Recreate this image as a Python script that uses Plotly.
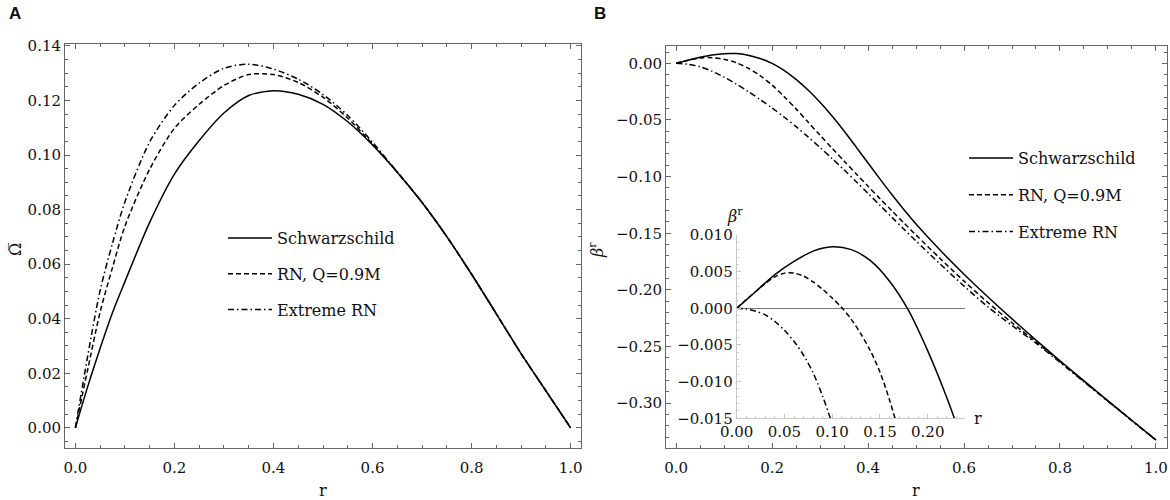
import plotly.graph_objects as go

# (A) Omega-bar vs r
r_left = [0, 0.025, 0.05, 0.075, 0.1, 0.15, 0.2, 0.25, 0.3, 0.35, 0.4, 0.45,
          0.5, 0.55, 0.6, 0.65, 0.7, 0.75, 0.8, 0.85, 0.9, 0.95, 1.0]
omega_schw = [0, 0.0152, 0.0292, 0.0423, 0.0536, 0.0753, 0.0930, 0.1053, 0.1154, 0.1218, 0.1236, 0.1223,
              0.1186, 0.1122, 0.1037, 0.0937, 0.0826, 0.0701, 0.0563, 0.0418, 0.0272, 0.0136, 0.0]
omega_rn = [0, 0.0215, 0.0425, 0.0588, 0.0739, 0.0948, 0.1098, 0.1186, 0.1255, 0.1295, 0.1295, 0.1266,
            0.1212, 0.1135, 0.1040, 0.0937, 0.0826, 0.0701, 0.0563, 0.0418, 0.0272, 0.0136, 0.0]
omega_ext = [0, 0.0265, 0.0504, 0.0677, 0.0828, 0.1048, 0.1182, 0.1264, 0.1318, 0.1333, 0.1315, 0.1278,
             0.1222, 0.1145, 0.1047, 0.0938, 0.0827, 0.0701, 0.0563, 0.0418, 0.0272, 0.0136, 0.0]

# (B) beta^r vs r
r_right = [0, 0.025, 0.05, 0.075, 0.1, 0.125, 0.15, 0.175, 0.2, 0.225, 0.25, 0.275, 0.3, 0.325, 0.35,
           0.375, 0.4, 0.425, 0.45, 0.475, 0.5, 0.55, 0.6, 0.65, 0.7, 0.75, 0.8, 0.85, 0.9, 0.95, 1.0]
beta_schw = [0, 0.0028, 0.0053, 0.0073, 0.0085, 0.0086, 0.0072, 0.0043, 0.0000, -0.0062, -0.0142, -0.0236,
             -0.0344, -0.0465, -0.0597, -0.0737, -0.0880, -0.1022, -0.1160, -0.1292, -0.1418, -0.1648,
             -0.1861, -0.2063, -0.2256, -0.2443, -0.2625, -0.2803, -0.2979, -0.3153, -0.3325]
beta_rn = [0, 0.0028, 0.0048, 0.0050, 0.0036, 0.0006, -0.0042, -0.0108, -0.0192, -0.0292, -0.0402, -0.0518,
           -0.0635, -0.0749, -0.0862, -0.0974, -0.1085, -0.1195, -0.1303, -0.1410, -0.1515, -0.1722,
           -0.1922, -0.2112, -0.2290, -0.2458, -0.2632, -0.2806, -0.2980, -0.3153, -0.3325]
beta_ext = [0, -0.0008, -0.0030, -0.0070, -0.0122, -0.0182, -0.0248, -0.0319, -0.0394, -0.0474, -0.0559, -0.0649,
            -0.0743, -0.0840, -0.0940, -0.1043, -0.1148, -0.1254, -0.1360, -0.1465, -0.1568, -0.1770,
            -0.1966, -0.2150, -0.2315, -0.2470, -0.2640, -0.2812, -0.2983, -0.3155, -0.3326]

# inset near the origin
r_in_schw = [0, 0.02, 0.04, 0.06, 0.08, 0.1, 0.12, 0.14, 0.16, 0.18, 0.2, 0.22, 0.24]
beta_in_schw = [0, 0.0023, 0.0046, 0.0064, 0.0078, 0.0084, 0.0080, 0.0065, 0.0037, -0.0003, -0.0058, -0.0122, -0.0195]
r_in_rn = [0, 0.01, 0.02, 0.03, 0.04, 0.05, 0.06, 0.07, 0.08, 0.09, 0.1, 0.11, 0.12, 0.13, 0.14, 0.15, 0.16, 0.17, 0.18]
beta_in_rn = [0, 0.0012, 0.0023, 0.0034, 0.0043, 0.0048, 0.0048, 0.0044, 0.0036, 0.0026, 0.0014, 0.0001,
              -0.0015, -0.0035, -0.0058, -0.0087, -0.0125, -0.0170, -0.0220]
r_in_ext = [0, 0.01, 0.02, 0.03, 0.04, 0.05, 0.06, 0.07, 0.08, 0.09, 0.1, 0.11]
beta_in_ext = [0, -0.0001, -0.0004, -0.0009, -0.0018, -0.0030, -0.0045, -0.0064, -0.0088, -0.0120, -0.0158, -0.0203]

names = ['Schwarzschild', 'RN, Q=0.9M', 'Extreme RN']
dashes = ['solid', '5px,3px', '6px,3px,1.5px,3px']

SERIF = 'DejaVu Serif'
FRAME = '#666666'
W, H = 1170, 500

fig = go.Figure()

for name, dash, ys in zip(names, dashes, [omega_schw, omega_rn, omega_ext]):
    fig.add_trace(go.Scatter(x=r_left, y=ys, mode='lines', name=name,
                             line=dict(color='black', width=1.5, dash=dash, shape='spline', smoothing=0.8),
                             xaxis='x', yaxis='y', legend='legend', legendgroup='a' + name))

for name, dash, ys in zip(names, dashes, [beta_schw, beta_rn, beta_ext]):
    fig.add_trace(go.Scatter(x=r_right, y=ys, mode='lines', name=name,
                             line=dict(color='black', width=1.5, dash=dash, shape='spline', smoothing=0.8),
                             xaxis='x2', yaxis='y2', legend='legend2', legendgroup='b' + name))

for dash, xs, ys in zip(dashes, [r_in_schw, r_in_rn, r_in_ext], [beta_in_schw, beta_in_rn, beta_in_ext]):
    fig.add_trace(go.Scatter(x=xs, y=ys, mode='lines', showlegend=False,
                             line=dict(color='black', width=1.5, dash=dash, shape='spline', smoothing=0.8),
                             xaxis='x3', yaxis='y3'))


def frame_axis(**kw):
    d = dict(showline=True, linecolor=FRAME, linewidth=1, mirror='allticks', ticks='inside', ticklen=5,
             tickcolor=FRAME, showgrid=False, zeroline=False, automargin=False,
             tickfont=dict(family=SERIF, size=15, color='#111'))
    d.update(kw)
    return d


def inset_axis(**kw):
    d = dict(showline=True, linecolor='#c8c8c8', ticks='inside', ticklen=4, tickcolor='#c8c8c8',
             showgrid=False, automargin=False, tickfont=dict(family=SERIF, size=15, color='#111'))
    d.update(kw)
    return d


def px_x(p):
    return p / W


def px_y(p):
    return (H - p) / H


fig.update_layout(
    width=W, height=H, margin=dict(l=0, r=0, t=0, b=0),
    plot_bgcolor='rgba(0,0,0,0)', paper_bgcolor='white',
    xaxis=frame_axis(domain=[px_x(65), px_x(581)], range=[-0.021, 1.021], anchor='y', dtick=0.2, tickformat='.1f',
                     minor=dict(ticks='inside', ticklen=3, tickcolor=FRAME, dtick=0.05), ticklabelstandoff=6),
    yaxis=frame_axis(domain=[px_y(448), px_y(44)], range=[-0.0074, 0.1407], anchor='x', dtick=0.02, tickformat='.2f',
                     minor=dict(ticks='inside', ticklen=3, tickcolor=FRAME, dtick=0.005)),
    xaxis2=frame_axis(domain=[px_x(666), px_x(1167)], range=[-0.021, 1.023], anchor='y2', dtick=0.2, tickformat='.1f',
                      minor=dict(ticks='inside', ticklen=3, tickcolor=FRAME, dtick=0.05), ticklabelstandoff=6),
    yaxis2=frame_axis(domain=[px_y(448.3), px_y(46)], range=[-0.3398, 0.0153], anchor='x2', dtick=0.05, tickformat='.2f',
                      minor=dict(ticks='inside', ticklen=3, tickcolor=FRAME, dtick=0.01)),
    xaxis3=inset_axis(domain=[px_x(736.7), px_x(965)], range=[0, 0.239], anchor='y3', dtick=0.05, tickformat='.2f',
                      zeroline=False, minor=dict(ticks='inside', ticklen=2, tickcolor='#d0d0d0', dtick=0.01)),
    yaxis3=inset_axis(domain=[px_y(418.3), px_y(235)], range=[-0.015, 0.010], anchor='x3', dtick=0.005, tick0=0,
                      tickformat='.3f', zeroline=True, zerolinecolor='#777777', zerolinewidth=1,
                      minor=dict(ticks='inside', ticklen=2, tickcolor='#d0d0d0', dtick=0.001)),
    legend=dict(x=px_x(223), y=px_y(221), xanchor='left', yanchor='top', bgcolor='rgba(0,0,0,0)',
                font=dict(family=SERIF, size=16, color='#111'), itemwidth=44, tracegroupgap=12, traceorder='grouped'),
    legend2=dict(x=px_x(964), y=px_y(141), xanchor='left', yanchor='top', bgcolor='rgba(0,0,0,0)',
                 font=dict(family=SERIF, size=16, color='#111'), itemwidth=44, tracegroupgap=13, traceorder='grouped'),
)

annotations = [
    dict(text='<b>A</b>', x=px_x(15), y=px_y(13), font=dict(family='Liberation Sans', size=17)),
    dict(text='<b>B</b>', x=px_x(600), y=px_y(13), font=dict(family='Liberation Sans', size=17)),
    dict(text='r', x=px_x(323), y=px_y(490), font=dict(family=SERIF, size=16)),
    dict(text='r', x=px_x(916), y=px_y(490), font=dict(family=SERIF, size=16)),
    dict(text='Ω\u0305', x=px_x(15), y=px_y(250), textangle=-90, font=dict(family=SERIF, size=16)),
    dict(text='<i>β</i><sup>r</sup>', x=px_x(596), y=px_y(250), textangle=-90, font=dict(family=SERIF, size=16)),
    dict(text='<i>β</i><sup>r</sup>', x=px_x(735), y=px_y(215), font=dict(family=SERIF, size=16)),
    dict(text='r', x=px_x(978), y=px_y(418), font=dict(family=SERIF, size=16)),
]
for a in annotations:
    a.update(xref='paper', yref='paper', showarrow=False, xanchor='center', yanchor='middle')
    a['font'].setdefault('color', '#111')
fig.update_layout(annotations=annotations)

# the page body has a default 8px margin; drop it so the figure sits at the window origin
fig.write_html('out.html', config={'displayModeBar': False},
               post_script="document.body.style.margin='0';")
